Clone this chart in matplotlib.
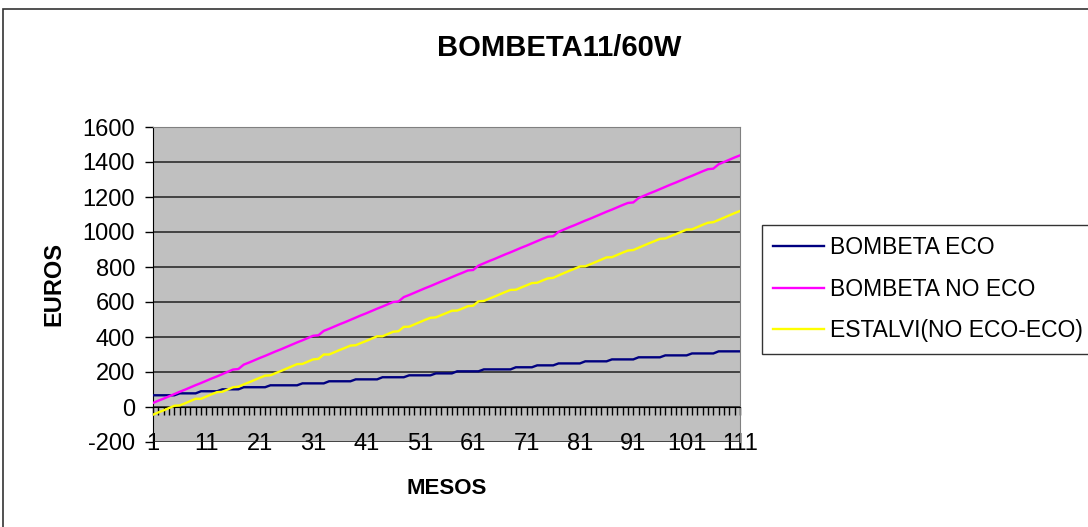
import matplotlib
matplotlib.use('Agg')
import matplotlib.pyplot as plt
from matplotlib.patches import Rectangle

# Dades (llegides del gràfic original), mesos 1..111
MESOS = list(range(1, 112))

BOMBETA_ECO = [
    67, 67, 67, 67, 67, 78, 78, 78, 78, 90,
    90, 90, 90, 101, 101, 101, 101, 113, 113, 113,
    113, 113, 124, 124, 124, 124, 124, 124, 135, 135,
    135, 135, 135, 147, 147, 147, 147, 147, 158, 158,
    158, 158, 158, 170, 170, 170, 170, 170, 181, 181,
    181, 181, 181, 192, 192, 192, 192, 204, 204, 204,
    204, 204, 215, 215, 215, 215, 215, 215, 227, 227,
    227, 227, 238, 238, 238, 238, 249, 249, 249, 249,
    249, 261, 261, 261, 261, 261, 272, 272, 272, 272,
    272, 284, 284, 284, 284, 284, 295, 295, 295, 295,
    295, 306, 306, 306, 306, 306, 318, 318, 318, 318,
    318,
]

BOMBETA_NO_ECO = [
    23, 36, 48, 61, 74, 87, 99, 112, 125, 137,
    150, 163, 175, 188, 201, 214, 217, 242, 254, 267,
    280, 292, 305, 318, 330, 343, 356, 369, 381, 394,
    407, 410, 435, 447, 460, 473, 485, 498, 511, 524,
    536, 549, 562, 574, 587, 600, 603, 628, 640, 653,
    666, 679, 691, 704, 717, 729, 742, 755, 767, 780,
    783, 808, 821, 834, 846, 859, 872, 884, 897, 910,
    922, 935, 948, 961, 973, 976, 1001, 1014, 1027, 1039,
    1052, 1065, 1077, 1090, 1103, 1116, 1128, 1141, 1154, 1166,
    1169, 1194, 1207, 1220, 1232, 1245, 1258, 1271, 1283, 1296,
    1309, 1321, 1334, 1347, 1359, 1362, 1387, 1400, 1413, 1426,
    1438,
]

# estalvi = no eco - eco
ESTALVI = [n - e for n, e in zip(BOMBETA_NO_ECO, BOMBETA_ECO)]

SERIES = [
    ("BOMBETA ECO", BOMBETA_ECO, "#000080"),
    ("BOMBETA NO ECO", BOMBETA_NO_ECO, "#FF00FF"),
    ("ESTALVI(NO ECO-ECO)", ESTALVI, "#FFFF00"),
]

Y_TICKS = [-200, 0, 200, 400, 600, 800, 1000, 1200, 1400, 1600]
X_LABEL_TICKS = MESOS[::10]

plt.rcParams['font.family'] = ['Liberation Sans', 'DejaVu Sans']

W, H = 1088, 527
fig = plt.figure(figsize=(W / 100, H / 100), dpi=100)
fig.patch.set_facecolor('white')

# marc de l'àrea del gràfic
fig.patches.append(Rectangle((3 / W, -0.05), 1.2, 1.05 - 9 / H,
                             transform=fig.transFigure, fill=False,
                             edgecolor='#333333', linewidth=1.2))

ax = fig.add_axes([153 / W, 85 / H, 587 / W, 315 / H])
ax.set_facecolor('#C0C0C0')

for label, values, color in SERIES:
    ax.plot(MESOS, values, color=color, linewidth=1.7, label=label,
            solid_joinstyle='miter', zorder=3)

ax.set_xlim(1, 111)
ax.set_ylim(-200, 1600)
ax.set_yticks(Y_TICKS)
ax.set_yticklabels([str(v) for v in Y_TICKS])
ax.set_xticks(X_LABEL_TICKS)
ax.set_xticklabels([str(v) for v in X_LABEL_TICKS])
ax.set_xticks(MESOS, minor=True)

ax.yaxis.grid(True, color='#202020', linewidth=1.1)
ax.set_axisbelow(True)

ax.spines['bottom'].set_position(('data', 0))
ax.spines['bottom'].set_color('black')
ax.spines['left'].set_color('black')
ax.spines['top'].set_color('#808080')
ax.spines['right'].set_color('#808080')

ax.tick_params(axis='y', direction='out', length=6, width=1, labelsize=17, pad=7)
ax.tick_params(axis='x', which='both', direction='out', length=6, width=1)
ax.tick_params(axis='x', which='major', labelsize=17, pad=13)

ax.set_ylabel("EUROS", fontsize=17, fontweight='bold', labelpad=12)
fig.text(447 / W, 1 - 489 / H, "MESOS", fontsize=16, fontweight='bold',
         ha='center', va='center')
fig.text(559 / W, 1 - 48 / H, "BOMBETA11/60W", fontsize=21, fontweight='bold',
         ha='center', va='center')

leg = ax.legend(loc='upper left', bbox_to_anchor=(762 / W, 1 - 225 / H),
                bbox_transform=fig.transFigure, fontsize=16.5, frameon=True,
                fancybox=False, edgecolor='black', handlelength=2.2,
                handletextpad=0.25, labelspacing=0.8, borderpad=0.5,
                borderaxespad=0)
leg.get_frame().set_linewidth(1)

fig.savefig('out.png', dpi=100)
